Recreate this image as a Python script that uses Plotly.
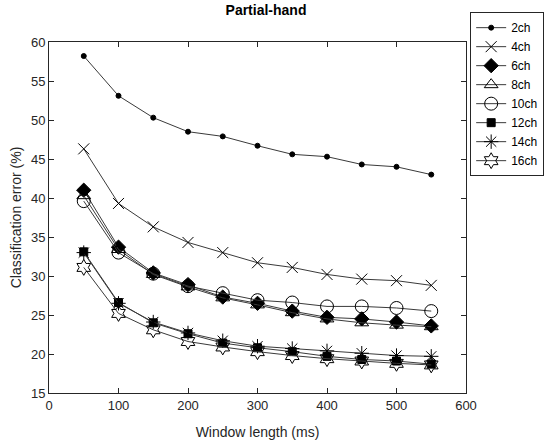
import plotly.graph_objects as go

window_ms = [50, 100, 150, 200, 250, 300, 350, 400, 450, 500, 550]
series_names = ["2ch", "4ch", "6ch", "8ch", "10ch", "12ch", "14ch", "16ch"]
err_2ch = [58.2, 53.1, 50.3, 48.5, 47.9, 46.7, 45.6, 45.3, 44.3, 44.0, 43.0]
err_4ch = [46.3, 39.3, 36.3, 34.3, 33.0, 31.7, 31.1, 30.2, 29.6, 29.4, 28.8]
err_6ch = [41.0, 33.7, 30.4, 28.9, 27.3, 26.5, 25.5, 24.7, 24.5, 24.1, 23.6]
err_8ch = [40.3, 33.4, 30.2, 28.6, 27.2, 26.3, 25.3, 24.5, 24.0, 23.7, 23.5]
err_10ch = [39.6, 33.0, 30.3, 28.7, 27.8, 26.9, 26.6, 26.1, 26.1, 25.9, 25.5]
err_12ch = [33.1, 26.6, 24.0, 22.6, 21.4, 20.8, 20.3, 19.7, 19.3, 19.1, 18.7]
err_14ch = [33.0, 26.5, 24.1, 22.7, 21.7, 21.0, 20.7, 20.4, 20.1, 19.8, 19.7]
err_16ch = [31.1, 25.2, 23.1, 21.6, 20.9, 20.3, 19.8, 19.4, 19.1, 18.8, 18.6]

all_series = [err_2ch, err_4ch, err_6ch, err_8ch, err_10ch, err_12ch, err_14ch, err_16ch]
symbols = ["circle", "x-thin-open", "diamond", "triangle-up-open", "circle-open",
           "square", "asterisk-open", "hexagram-open"]
sizes = [5, 11, 11, 12, 13, 8, 12, 12]

fig = go.Figure()
for name, vals, sym, sz in zip(series_names, all_series, symbols, sizes):
    fig.add_trace(go.Scatter(
        x=window_ms, y=vals, name=name, mode="lines+markers",
        line=dict(color="#3a3a3a", width=1),
        marker=dict(symbol=sym, size=sz, color="black",
                    line=dict(color="black", width=1)),
    ))

axis_common = dict(
    showline=True, linecolor="#262626", linewidth=1, mirror="ticks",
    ticks="inside", ticklen=5, tickcolor="#262626", showgrid=False, zeroline=False,
    automargin=False,
    tickfont=dict(family="Liberation Sans, Arial, sans-serif", size=13, color="#262626"),
)

fig.update_layout(
    width=556, height=444,
    margin=dict(l=49, r=73, t=28, b=51),
    paper_bgcolor="white", plot_bgcolor="white",
    font=dict(family="Liberation Sans, Arial, sans-serif", size=13, color="#262626"),
    title=dict(text="<b>Partial-hand</b>", x=(49 + 434 / 2) / 556, xanchor="center",
               y=1 - 10 / 444, yanchor="middle", font=dict(size=14, color="black")),
    xaxis=dict(range=[0, 600], dtick=100, tick0=0,
               title=dict(text="Window length (ms)", standoff=15, font=dict(size=14)),
               **axis_common),
    yaxis=dict(range=[15, 60], dtick=5, tick0=15,
               title=dict(text="Classification error (%)", standoff=6, font=dict(size=14)),
               **axis_common),
    legend=dict(x=1.01, xanchor="left", y=1.085, yanchor="top",
                bordercolor="#262626", borderwidth=1, bgcolor="white",
                font=dict(size=12, color="black"), tracegroupgap=0,
                itemwidth=30),
    showlegend=True,
)

fig.write_html("out.html")
